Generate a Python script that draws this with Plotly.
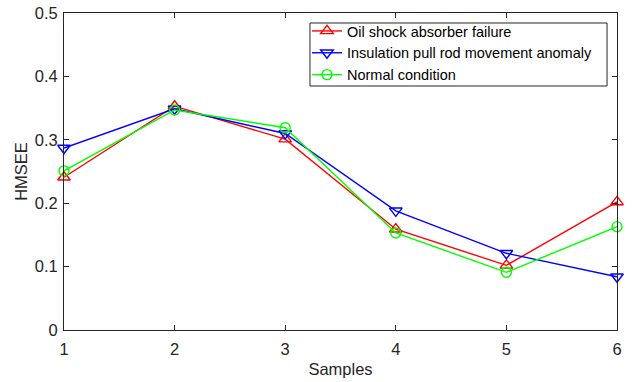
import plotly.graph_objects as go

samples = [1, 2, 3, 4, 5, 6]
oil_shock = [0.241, 0.353, 0.301, 0.159, 0.102, 0.202]
pull_rod = [0.287, 0.349, 0.310, 0.188, 0.121, 0.084]
normal = [0.251, 0.347, 0.319, 0.153, 0.091, 0.163]
names = ["Oil shock absorber failure", "Insulation pull rod movement anomaly", "Normal condition"]
y_ticks = [0, 0.1, 0.2, 0.3, 0.4, 0.5]
y_tick_text = ["0", "0.1", "0.2", "0.3", "0.4", "0.5"]

FONT = "Arial, Liberation Sans, sans-serif"
INK = "#262626"

fig = go.Figure()
series = [
    (oil_shock, names[0], "#ff0000", "triangle-up-open", 11),
    (pull_rod, names[1], "#0000ff", "triangle-down-open", 11),
    (normal, names[2], "#00ff00", "circle-open", 10),
]
for vals, name, color, sym, size in series:
    fig.add_trace(go.Scatter(
        x=samples, y=vals, name=name, mode="lines+markers",
        line=dict(color=color, width=1.4),
        marker=dict(symbol=sym, size=size, color=color, line=dict(width=1.4, color=color)),
        cliponaxis=False,
    ))

axis_common = dict(
    showline=True, linecolor=INK, linewidth=1, mirror="ticks",
    ticks="inside", ticklen=5, tickcolor=INK, tickwidth=1,
    showgrid=False, zeroline=False, automargin=False,
    tickfont=dict(family=FONT, size=16.5, color=INK),
)

# legend frame drawn as a shape so its padding matches the reference
fig.add_shape(type="rect", xref="paper", yref="paper",
              x0=0.4448, x1=0.982, y0=0.7697, y1=0.9685,
              line=dict(color=INK, width=1), fillcolor="white", layer="above")

fig.update_layout(
    width=635, height=382,
    margin=dict(l=64, r=18, t=13, b=52),
    paper_bgcolor="white", plot_bgcolor="white",
    font=dict(family=FONT, color=INK),
    xaxis=dict(range=[1, 6], tickvals=samples, ticklabelstandoff=4,
               title=dict(text="Samples", font=dict(family=FONT, size=16.5, color=INK), standoff=6),
               **axis_common),
    yaxis=dict(range=[0, 0.5], tickvals=y_ticks, ticktext=y_tick_text, ticklabelstandoff=2,
               title=dict(text="HMSEE", font=dict(family=FONT, size=16.5, color=INK), standoff=2),
               **axis_common),
    legend=dict(
        x=0.4394, y=0.9937, xanchor="left", yanchor="top",
        bgcolor="rgba(0,0,0,0)", borderwidth=0,
        font=dict(family=FONT, size=14.5, color="#000000"),
        tracegroupgap=0, itemwidth=30,
    ),
    showlegend=True,
)

fig.write_html("out.html", config={"displayModeBar": False},
               post_script="document.body.style.margin='0px';")
